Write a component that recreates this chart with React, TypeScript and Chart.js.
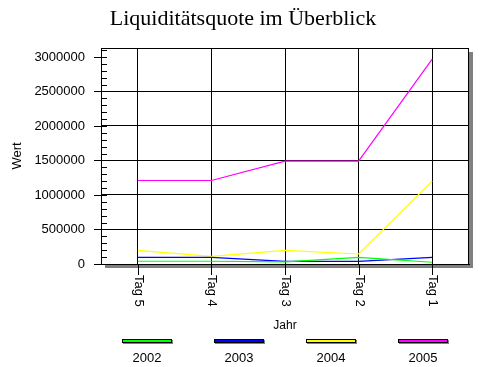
import React, { useEffect, useRef } from 'react';
import { Chart, registerables } from 'chart.js';

Chart.register(...registerables);

const titleText = 'Liquiditätsquote im Überblick';
const xTitle = 'Jahr';
const yTitle = 'Wert';
const categories = ['Tag 5', 'Tag 4', 'Tag 3', 'Tag 2', 'Tag 1'];
const seriesNames = ['2002', '2003', '2004', '2005'];
const values2002 = [40000, 40000, 30000, 97000, 25000];
const values2003 = [97000, 97000, 39000, 39000, 97000];
const values2004 = [198000, 110000, 198000, 145000, 1200000];
const values2005 = [1210000, 1210000, 1490000, 1490000, 2970000];
const seriesColors = ['#00ff00', '#0000ff', '#ffff00', '#ff00ff'];
const yMin = 0;
const yMax = 3130000;
const yMajorStep = 500000;
const yMinorStep = 100000;
const yTickValues = [0, 500000, 1000000, 1500000, 2000000, 2500000, 3000000];
const yGridHidden = [3000000];

const FONT = 'Liberation Sans, Arial, sans-serif';

const decorPlugin = {
  id: 'decor',
  beforeDraw(chart: any) {
    const { ctx, chartArea } = chart;
    const { left, top, right, bottom } = chartArea;
    ctx.save();
    ctx.fillStyle = '#808080';
    ctx.fillRect(left + 4, top + 4, right - left, bottom - top);
    ctx.fillStyle = '#ffffff';
    ctx.fillRect(left, top, right - left, bottom - top);
    // title
    ctx.fillStyle = '#000000';
    ctx.font = '22px Liberation Serif, Times New Roman, serif';
    ctx.textAlign = 'center';
    ctx.textBaseline = 'alphabetic';
    ctx.fillText(titleText, 243, 25);
    ctx.restore();
  },
  afterDraw(chart: any) {
    const { ctx, chartArea } = chart;
    const { left, top, right, bottom } = chartArea;
    const yScale = chart.scales.y;
    const xScale = chart.scales.x;
    ctx.save();
    ctx.strokeStyle = '#000000';
    ctx.lineWidth = 1;
    // frame top and right
    const ty = Math.round(top) + 0.5;
    const rx = Math.round(right) - 0.5;
    ctx.beginPath();
    ctx.moveTo(Math.round(left), ty);
    ctx.lineTo(rx + 0.5, ty);
    ctx.moveTo(rx, ty);
    ctx.lineTo(rx, Math.round(bottom) + 0.5);
    ctx.stroke();
    // y ticks
    for (let v = yMin; v <= yMax; v += yMinorStep) {
      const y = Math.round(yScale.getPixelForValue(v)) + 0.5;
      const major = v % yMajorStep === 0;
      ctx.beginPath();
      ctx.moveTo(major ? left - 7 : left, y);
      ctx.lineTo(left + 6, y);
      ctx.stroke();
    }
    // x ticks and rotated labels
    ctx.fillStyle = '#000000';
    ctx.font = '13px ' + FONT;
    ctx.textAlign = 'left';
    ctx.textBaseline = 'middle';
    categories.forEach((label, i) => {
      const x = Math.round(xScale.getPixelForTick(i)) + 0.5;
      ctx.beginPath();
      ctx.moveTo(x, bottom);
      ctx.lineTo(x, bottom + 11);
      ctx.stroke();
      ctx.save();
      ctx.translate(x, bottom + 11);
      ctx.rotate(Math.PI / 2);
      ctx.fillText(label, 0, 0);
      ctx.restore();
    });
    // legend
    const slot = (right - left) / seriesNames.length;
    ctx.textAlign = 'center';
    ctx.textBaseline = 'middle';
    chart.data.datasets.forEach((ds: any, i: number) => {
      const cx = Math.round(left + slot * (i + 0.5));
      ctx.fillStyle = '#808080';
      ctx.fillRect(cx - 24, 340, 50, 4);
      ctx.fillStyle = '#000000';
      ctx.fillRect(cx - 25, 339, 50, 4);
      ctx.fillStyle = ds.borderColor;
      ctx.fillRect(cx - 24, 340, 48, 2);
      ctx.fillStyle = '#000000';
      ctx.fillText(ds.label, cx, 358);
    });
    ctx.restore();
  },
};

export default function App() {
  const ref = useRef<HTMLCanvasElement | null>(null);
  useEffect(() => {
    if (!ref.current) return;
    const seriesValues = [values2002, values2003, values2004, values2005];
    const chart = new Chart(ref.current, {
      type: 'line',
      data: {
        labels: categories,
        datasets: seriesNames.map((name, i) => ({
          label: name,
          data: seriesValues[i],
          borderColor: seriesColors[i],
          backgroundColor: seriesColors[i],
          borderWidth: 1.2,
          pointRadius: 0,
          tension: 0,
          fill: false,
        })),
      },
      options: {
        animation: false,
        responsive: false,
        devicePixelRatio: 1,
        layout: { padding: { left: 0, right: 15, top: 48, bottom: 0 } },
        plugins: {
          legend: { display: false },
          tooltip: { enabled: false },
          title: { display: false },
        },
        scales: {
          x: {
            type: 'category',
            offset: true,
            grid: { display: true, color: '#000000', offset: false, drawTicks: false },
            border: { display: true, color: '#000000' },
            ticks: { display: false },
            title: {
              display: true,
              text: xTitle,
              color: '#000000',
              font: { family: FONT, size: 12 },
              padding: { top: 0, bottom: 34 },
            },
            afterFit: (scale: any) => {
              scale.height = 103;
            },
          },
          y: {
            type: 'linear',
            min: yMin,
            max: yMax,
            grid: {
              color: (c: any) => (c.tick && yGridHidden.includes(c.tick.value) ? 'rgba(0,0,0,0)' : '#000000'),
              drawTicks: false,
            },
            border: { display: true, color: '#000000' },
            afterBuildTicks: (scale: any) => {
              scale.ticks = yTickValues.map((v) => ({ value: v }));
            },
            ticks: {
              color: '#000000',
              font: { family: FONT, size: 13 },
              padding: 16,
              callback: (v: any) => String(v),
            },
            title: {
              display: true,
              text: yTitle,
              color: '#000000',
              font: { family: FONT, size: 13 },
              padding: { top: 10, bottom: 0 },
            },
            afterFit: (scale: any) => {
              scale.width = 101;
            },
          },
        },
      },
      plugins: [decorPlugin],
    } as any);
    return () => chart.destroy();
  }, []);
  return (
    <div style={{ position: 'fixed', left: 0, top: 0, width: 484, height: 367, background: '#ffffff' }}>
      <canvas ref={ref} width={484} height={367} style={{ width: 484, height: 367 }} />
    </div>
  );
}
